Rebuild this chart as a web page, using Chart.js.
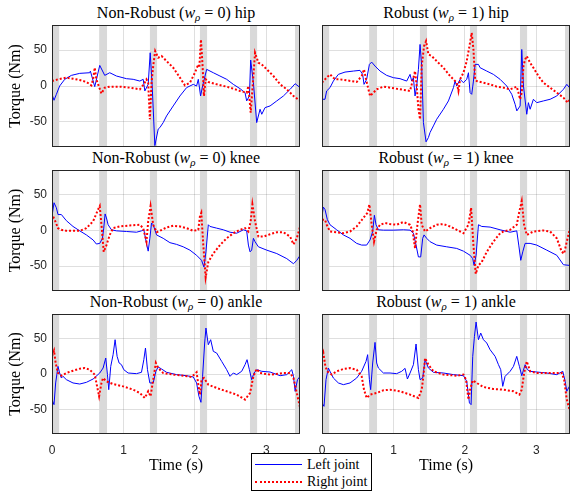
<!DOCTYPE html>
<html>
<head>
<meta charset="utf-8">
<script src="https://cdn.jsdelivr.net/npm/chart.js@4.4.0/dist/chart.umd.min.js"></script>
<style>
body { margin: 0; background: #fff; }
#fig { position: relative; width: 571px; height: 494px; overflow: hidden; background: #fff; }
#fig canvas { position: absolute; }
.ttl { position: absolute; width: 280px; text-align: center; font: 16px "Liberation Serif", serif; line-height: 18px; color: #000; white-space: nowrap; }
.ttl sub { font-size: 11px; vertical-align: -3px; line-height: 0; }
#legend { position: absolute; left: 251px; top: 453px; width: 119px; height: 36px; border: 1px solid #000; background: #fff; font: 14px "Liberation Serif", serif; color: #000; }
#legend .ln { position: absolute; left: 3px; width: 47px; height: 0; }
#legend .tx { position: absolute; left: 55px; line-height: 16px; white-space: nowrap; }
</style>
</head>
<body>
<div id="fig">
  <div class="ttl" style="left:36px;top:4px">Non-Robust (<i>w</i><sub><i>ρ</i></sub> = 0) hip</div>
  <div class="ttl" style="left:306px;top:4px">Robust (<i>w</i><sub><i>ρ</i></sub> = 1) hip</div>
  <div class="ttl" style="left:36px;top:149px">Non-Robust (<i>w</i><sub><i>ρ</i></sub> = 0) knee</div>
  <div class="ttl" style="left:306px;top:149px">Robust (<i>w</i><sub><i>ρ</i></sub> = 1) knee</div>
  <div class="ttl" style="left:36px;top:293px">Non-Robust (<i>w</i><sub><i>ρ</i></sub> = 0) ankle</div>
  <div class="ttl" style="left:306px;top:293px">Robust (<i>w</i><sub><i>ρ</i></sub> = 1) ankle</div>
  <div id="legend">
    <div class="ln" style="top:10px;border-top:1px solid #0000ff"></div>
    <div class="tx" style="top:3px">Left joint</div>
    <div class="ln" style="top:27px;border-top:2px dotted #ff0000"></div>
    <div class="tx" style="top:20px">Right joint</div>
  </div>
</div>
<script>
// time ticks and torque ticks
const timeTicks = [0, 1, 2, 3];
const torqueTicks = [-50, 0, 50];
const timeMax = 3.47;
const torqueLim = 85;

// double support phases (s)
const supportBands = [[0, 0.1], [0.66, 0.77], [1.37, 1.47], [2.07, 2.17], [2.77, 2.87], [3.40, 3.47]];

// [time, torque] pairs
const hipNRLeft = [[0,-11.6],[0.028,-19.9],[0.061,-11.6],[0.107,0],[0.178,9.3],[0.271,14.8],[0.388,17.6],[0.528,18.5],[0.537,20.8],[0.598,-0.9],[0.668,28.7],[0.738,14.8],[0.808,18.5],[0.902,13.9],[1.042,10.2],[1.136,9.3],[1.229,6.9],[1.276,9.3],[1.299,-6.9],[1.346,2.3],[1.374,46.3],[1.402,0],[1.439,-83],[1.486,-60],[1.509,-58],[1.556,-51],[1.603,-41.7],[1.696,-27.8],[1.79,-13.9],[1.883,-2.3],[1.977,2.3],[2.023,0],[2.047,9.3],[2.079,-13.9],[2.107,0],[2.164,23.2],[2.257,18.5],[2.35,13.9],[2.444,9.3],[2.537,2.3],[2.631,-3.7],[2.701,-9.3],[2.724,-20.8],[2.762,-13.9],[2.78,36.1],[2.818,4.6],[2.864,-51],[2.911,-32.4],[2.935,-39.4],[2.981,-30.1],[3.051,-27.8],[3.145,-20.8],[3.238,-13.9],[3.332,-4.6],[3.402,3.2],[3.472,-2.3]];
const hipNRRight = [[0,6.9],[0.084,9.3],[0.201,11.6],[0.294,10.2],[0.388,8.3],[0.481,5.6],[0.551,0.9],[0.575,9.3],[0.598,25.5],[0.621,9.3],[0.654,0],[0.692,-10.6],[0.738,-2.3],[0.808,-0.9],[0.949,-0.9],[1.089,-2.3],[1.229,-4.6],[1.285,2.3],[1.322,9.3],[1.346,4.6],[1.369,-46.3],[1.393,4.6],[1.416,27.8],[1.444,48.6],[1.486,39.4],[1.533,41.7],[1.603,34.7],[1.696,25.5],[1.79,11.6],[1.86,0.9],[1.93,4.6],[2.0,18.5],[2.047,30.1],[2.061,25.5],[2.084,64.8],[2.107,27.8],[2.126,-13.9],[2.15,9.3],[2.187,5.6],[2.304,2.3],[2.444,-0.9],[2.537,-3.7],[2.631,-6.9],[2.724,-9.3],[2.748,0],[2.78,-37],[2.808,0],[2.841,46.3],[2.888,32.4],[2.935,30.1],[3.005,23.2],[3.098,13.9],[3.192,2.3],[3.285,-4.6],[3.379,-13.9],[3.472,-20.8]];
const hipRLeft = [[0,-18.5],[0.042,-18.5],[0.065,-6.9],[0.112,-2.3],[0.159,6.9],[0.229,16.2],[0.322,19.4],[0.439,20.8],[0.532,21.8],[0.569,16.2],[0.588,2.3],[0.625,9.3],[0.663,30.1],[0.695,33.3],[0.742,27.8],[0.812,20.8],[0.905,14.8],[0.999,11.6],[1.092,10.2],[1.185,6.9],[1.232,16.2],[1.255,6.9],[1.279,11.6],[1.302,-13.9],[1.325,0],[1.349,23.2],[1.372,57.9],[1.395,27.8],[1.419,-50.9],[1.456,-77.8],[1.489,-71.8],[1.512,-64.8],[1.559,-55.6],[1.605,-46.3],[1.699,-32.4],[1.769,-20.8],[1.839,-2.3],[1.862,6.9],[1.885,0],[1.932,9.3],[1.979,4.6],[2.025,9.3],[2.049,18.5],[2.072,-9.3],[2.095,-11.6],[2.119,6.9],[2.142,30.1],[2.189,30.1],[2.212,25.5],[2.305,20.8],[2.398,16.2],[2.492,9.3],[2.585,0],[2.655,-11.6],[2.702,-25.5],[2.726,-34.7],[2.772,-27.8],[2.795,50.9],[2.819,0],[2.865,-39.4],[2.888,-23.2],[2.912,-32.4],[2.958,-18.5],[3.005,-23.2],[3.098,-20.8],[3.192,-18.5],[3.285,-13.9],[3.378,-4.6],[3.425,2.3],[3.462,-2.3],[3.47,-0.9]];
const hipRRight = [[0,4.6],[0.042,9.3],[0.112,16.2],[0.135,13.9],[0.182,9.3],[0.252,9.3],[0.345,7.9],[0.485,5.6],[0.555,13.9],[0.588,23.2],[0.616,9.3],[0.672,-13.9],[0.719,-9.3],[0.765,-4.6],[0.859,-0.9],[0.952,-2.3],[1.092,-4.6],[1.232,-6.9],[1.279,11.6],[1.302,20.8],[1.325,0],[1.349,-32.4],[1.372,-46.3],[1.395,27.8],[1.428,55.6],[1.456,62.5],[1.489,44],[1.535,41.7],[1.605,34.7],[1.699,25.5],[1.792,13.9],[1.885,4.6],[1.909,-6.9],[1.932,9.3],[1.979,18.5],[2.025,34.7],[2.063,55.6],[2.095,74.1],[2.119,50.9],[2.142,9.3],[2.165,6.9],[2.259,4.6],[2.352,2.3],[2.445,-0.9],[2.538,-2.3],[2.632,-4.6],[2.725,-0.9],[2.749,-9.3],[2.772,-18.5],[2.795,-9.3],[2.819,27.8],[2.842,37],[2.865,41.7],[2.912,32.4],[2.958,25.5],[3.028,13.9],[3.098,4.6],[3.192,-2.3],[3.285,-9.3],[3.378,-16.2],[3.439,-23.2],[3.47,-18.5]];

const kneeNRLeft = [[0,20],[0.028,39],[0.061,31.9],[0.084,22.4],[0.131,22.4],[0.201,13.8],[0.294,5.7],[0.388,-0.5],[0.481,-6.2],[0.575,-13.3],[0.621,-19],[0.668,-18.1],[0.706,-11],[0.724,3.3],[0.743,23.3],[0.762,17.6],[0.785,8.1],[0.832,1],[0.902,-0.5],[1.042,-1.4],[1.182,-2.4],[1.252,-0.5],[1.285,1],[1.322,-18.1],[1.346,-29],[1.369,-11],[1.393,10.5],[1.416,8.1],[1.463,-6.2],[1.556,-11],[1.65,-17.1],[1.743,-19.5],[1.836,-22.9],[1.93,-27.6],[2.023,-34.8],[2.093,-41.9],[2.126,-51.4],[2.154,-30],[2.187,8.1],[2.21,5.7],[2.304,3.3],[2.397,1],[2.491,-2.4],[2.584,-3.8],[2.678,1],[2.724,-0.5],[2.748,-20.5],[2.771,-30],[2.794,-27.6],[2.818,-11],[2.841,-15.7],[2.888,-22.9],[3.005,-27.6],[3.145,-32.4],[3.285,-39.5],[3.379,-46.7],[3.425,-41.9],[3.472,-34.8]];
const kneeNRRight = [[0,15.2],[0.014,20],[0.037,15.2],[0.084,3.3],[0.131,1],[0.201,-0.5],[0.388,-0.5],[0.481,3.3],[0.575,12.9],[0.645,29.5],[0.668,34.3],[0.692,8.1],[0.724,-30],[0.762,-20.5],[0.808,-6.2],[0.855,3.3],[0.949,5.7],[1.089,7.1],[1.229,8.1],[1.276,3.3],[1.322,-15.7],[1.346,12.9],[1.379,34.3],[1.416,8.1],[1.463,-2.4],[1.509,-0.5],[1.603,4.3],[1.696,6.7],[1.79,5.7],[1.883,3.3],[1.977,-0.5],[2.047,1],[2.07,20],[2.089,24.8],[2.117,-20.5],[2.15,-65.7],[2.187,-44.3],[2.257,-32.4],[2.35,-20.5],[2.444,-11],[2.537,-3.8],[2.631,1],[2.701,3.3],[2.748,-1.4],[2.78,12.9],[2.804,36.7],[2.841,12.9],[2.888,-8.6],[2.958,-8.6],[3.051,-5.2],[3.145,-2.4],[3.238,-2.4],[3.332,-8.6],[3.379,-19.5],[3.425,-11],[3.472,5.7]];
const kneeRLeft = [[0,20],[0.019,32.9],[0.042,29.5],[0.075,15.2],[0.112,8.1],[0.205,1],[0.299,-6.2],[0.392,-11],[0.485,-18.1],[0.555,-20.5],[0.625,-20.5],[0.672,-13.3],[0.709,-1.4],[0.733,21.4],[0.756,8.1],[0.789,1],[0.859,0.5],[0.999,0.5],[1.139,1],[1.232,0.5],[1.279,-3.8],[1.316,-20.5],[1.349,-37.1],[1.381,-37.1],[1.409,-11],[1.428,-6.2],[1.465,-11],[1.512,-15.7],[1.605,-20.5],[1.745,-22.9],[1.885,-25.2],[1.979,-29],[2.072,-34.8],[2.109,-39.5],[2.128,-49],[2.156,-34.8],[2.189,8.1],[2.235,5.7],[2.352,4.8],[2.492,1],[2.632,-2.4],[2.725,-0.5],[2.753,-20.5],[2.781,-41.9],[2.809,-30],[2.842,-18.1],[2.912,-18.1],[3.005,-20.5],[3.145,-27.6],[3.285,-34.8],[3.378,-48.1],[3.462,-49],[3.47,-39.5]];
const kneeRRight = [[0,15.2],[0.042,15.2],[0.065,8.1],[0.112,-1.4],[0.205,-2.4],[0.299,-3.8],[0.392,-1.4],[0.485,5.7],[0.579,17.6],[0.635,24.8],[0.663,36.7],[0.695,8.1],[0.728,-15.7],[0.765,1],[0.812,8.1],[0.882,10.5],[0.952,9],[1.045,8.1],[1.139,11.9],[1.232,8.1],[1.269,-1.4],[1.302,-25.2],[1.335,8.1],[1.372,36.7],[1.395,8.1],[1.442,-1.4],[1.512,3.3],[1.605,8.1],[1.699,9],[1.792,5.7],[1.885,1],[1.979,-3.8],[2.049,8.1],[2.086,31.9],[2.119,-20.5],[2.151,-61],[2.189,-49],[2.235,-44.3],[2.305,-30],[2.398,-15.7],[2.492,-3.8],[2.538,-1.4],[2.632,1],[2.725,8.1],[2.762,27.1],[2.795,41.4],[2.828,8.1],[2.865,-6.2],[2.958,-1.4],[3.098,0],[3.192,-1.4],[3.285,-11],[3.355,-30],[3.388,-32.4],[3.425,-15.7],[3.47,3.3]];

const ankleNRLeft = [[0,-36.3],[0.028,-43.4],[0.051,-12.7],[0.084,10.8],[0.107,1.4],[0.131,-5.7],[0.154,-3.3],[0.201,-8],[0.294,-12.7],[0.388,-14.2],[0.481,-11.8],[0.575,-7.1],[0.668,1.4],[0.715,8.5],[0.752,22.6],[0.776,-0.9],[0.794,-22.2],[0.822,10.8],[0.855,27.4],[0.883,48.6],[0.911,25],[0.939,15.6],[0.972,13.2],[1.005,6.1],[1.065,1.4],[1.182,0.5],[1.252,2.4],[1.285,20.3],[1.308,36.8],[1.336,6.1],[1.369,-12.7],[1.416,-12.7],[1.453,3.8],[1.486,9.9],[1.533,7.1],[1.603,2.4],[1.743,-0.9],[1.883,-2.4],[1.977,-4.2],[2.023,-12.7],[2.056,-31.6],[2.084,-40.1],[2.107,-3.3],[2.136,43.9],[2.154,65.1],[2.187,41.5],[2.22,48.6],[2.257,32.1],[2.304,29.7],[2.374,17.9],[2.444,6.1],[2.491,-3.3],[2.537,1.4],[2.584,-0.9],[2.654,3.8],[2.701,13.2],[2.729,20.3],[2.762,6.1],[2.794,-8],[2.827,1.4],[2.864,6.1],[2.935,3.8],[3.051,2.8],[3.192,-2.4],[3.285,-0.9],[3.355,6.1],[3.379,-3.3],[3.402,-24.5],[3.435,-8],[3.472,-3.3]];
const ankleNRRight = [[0,25],[0.028,33],[0.051,15.6],[0.084,1.4],[0.131,-2.4],[0.201,1.4],[0.294,4.7],[0.388,7.5],[0.458,8.5],[0.528,6.1],[0.598,-0.9],[0.631,-17.5],[0.659,-31.6],[0.692,-12.7],[0.715,-5.7],[0.762,-10.4],[0.855,-14.2],[0.995,-17.5],[1.136,-22.2],[1.229,-26.9],[1.299,-34],[1.346,-24.5],[1.379,-31.6],[1.416,-8],[1.453,15.6],[1.486,8.5],[1.556,1.4],[1.696,-0.9],[1.836,-2.4],[1.953,-4.2],[2.023,2.4],[2.051,-17.5],[2.07,-29.2],[2.093,-8],[2.126,-5.7],[2.187,-15.1],[2.304,-19.8],[2.444,-24.5],[2.584,-29.2],[2.701,-36.3],[2.771,-26.9],[2.818,-3.3],[2.864,7.1],[2.911,1.4],[3.051,-0.9],[3.238,1.4],[3.332,1.4],[3.379,-5.7],[3.425,-26.9],[3.472,-48.1]];
const ankleRLeft = [[0,-41],[0.028,-45.8],[0.056,-8],[0.089,8.5],[0.112,3.8],[0.159,-5.7],[0.229,-12.7],[0.299,-15.1],[0.392,-12.7],[0.485,-5.7],[0.555,3.8],[0.616,17.9],[0.639,27.4],[0.663,-8],[0.681,-22.2],[0.709,15.6],[0.742,44.8],[0.765,15.6],[0.789,8.5],[0.859,1.4],[0.952,1.4],[1.045,0.5],[1.115,3.8],[1.162,8],[1.195,-7.1],[1.232,1.4],[1.279,13.2],[1.316,42.5],[1.349,6.1],[1.372,-8],[1.409,-5.7],[1.442,20.3],[1.489,8.5],[1.559,2.4],[1.699,1.4],[1.839,-0.9],[1.979,-2.4],[2.025,-10.4],[2.063,-41],[2.086,-43.4],[2.109,25],[2.133,53.3],[2.156,73.6],[2.189,48.6],[2.221,58],[2.259,48.6],[2.305,43.9],[2.352,34.4],[2.422,25],[2.469,13.2],[2.501,6.1],[2.529,-17.5],[2.562,-3.3],[2.632,3.8],[2.679,10.8],[2.725,25],[2.762,10.8],[2.795,-2.4],[2.842,13.2],[2.875,6.1],[2.912,3.8],[3.005,2.8],[3.145,1.4],[3.285,-0.9],[3.369,3.8],[3.402,-10.4],[3.425,-24.5],[3.462,-17.5],[3.47,-22.2]];
const ankleRRight = [[0,22.6],[0.019,29.7],[0.047,10.8],[0.075,3.8],[0.135,-0.9],[0.205,3.8],[0.299,7.1],[0.392,8.5],[0.485,6.1],[0.555,-3.3],[0.588,-22.2],[0.625,-34],[0.672,-29.2],[0.765,-26.9],[0.859,-23.1],[0.952,-22.2],[1.092,-24.5],[1.232,-29.2],[1.349,-34],[1.395,-22.2],[1.419,-3.3],[1.442,22.6],[1.489,13.2],[1.559,3.8],[1.699,-0.9],[1.885,-2.4],[1.979,-0.9],[2.016,-8],[2.049,-36.3],[2.072,-22.2],[2.109,-9],[2.165,-12.7],[2.259,-18.4],[2.398,-21.2],[2.538,-22.2],[2.679,-24.5],[2.762,-29.2],[2.795,-22.2],[2.828,1.4],[2.865,17.9],[2.912,3.8],[3.005,1.4],[3.145,1.4],[3.285,1.4],[3.355,1.4],[3.388,-8],[3.425,-36.3],[3.47,-52.8]];

const panels = [
  { left: hipNRLeft, right: hipNRRight, col: 0, row: 0 },
  { left: hipRLeft, right: hipRRight, col: 1, row: 0 },
  { left: kneeNRLeft, right: kneeNRRight, col: 0, row: 1 },
  { left: kneeRLeft, right: kneeRRight, col: 1, row: 1 },
  { left: ankleNRLeft, right: ankleNRRight, col: 0, row: 2 },
  { left: ankleRLeft, right: ankleRRight, col: 1, row: 2 }
];

// pixel frame of each panel
const colLeft = [0, 302], colWidth = [301, 269], yAxisWidth = [52, 20];
const rowTop = [25, 170, 314], rowHeight = [123, 122, 180], xAxisHeight = [0, 0, 60];

const AXIS_COLOR = '#262626';
const GRID_COLOR = 'rgba(38,38,38,0.15)';

const framePlugin = {
  id: 'frame',
  beforeDatasetsDraw(chart) {
    const { ctx, chartArea: a, scales: { x } } = chart;
    ctx.save();
    ctx.fillStyle = '#d9d9d9';
    supportBands.forEach(([s, e]) => {
      const x0 = Math.max(x.getPixelForValue(s), a.left);
      const x1 = Math.min(x.getPixelForValue(e), a.right);
      if (x1 > x0) ctx.fillRect(x0, a.top, x1 - x0, a.bottom - a.top);
    });
    ctx.restore();
  },
  afterDraw(chart) {
    const { ctx, chartArea: a } = chart;
    ctx.save();
    ctx.strokeStyle = AXIS_COLOR;
    ctx.lineWidth = 1;
    ctx.strokeRect(Math.round(a.left) + 0.5, Math.round(a.top) + 0.5, Math.round(a.right - a.left) - 1, Math.round(a.bottom - a.top) - 1);
    ctx.restore();
  }
};

const toXY = arr => arr.map(p => ({ x: p[0], y: p[1] }));
const fig = document.getElementById('fig');

panels.forEach(p => {
  const canvas = document.createElement('canvas');
  canvas.width = colWidth[p.col];
  canvas.height = rowHeight[p.row];
  canvas.style.left = colLeft[p.col] + 'px';
  canvas.style.top = rowTop[p.row] + 'px';
  fig.insertBefore(canvas, fig.firstChild);

  const bottomRow = p.row === 2;
  const firstCol = p.col === 0;

  new Chart(canvas.getContext('2d'), {
    type: 'line',
    data: {
      datasets: [
        { label: 'Left joint', data: toXY(p.left), borderColor: '#0000ff', borderWidth: 1, pointRadius: 0, order: 2 },
        { label: 'Right joint', data: toXY(p.right), borderColor: '#ff0000', borderWidth: 2, borderDash: [2, 2], pointRadius: 0, order: 1 }
      ]
    },
    options: {
      responsive: false,
      animation: false,
      devicePixelRatio: 1,
      layout: { padding: { top: 0, right: 1, bottom: bottomRow ? 0 : 1, left: 0 } },
      plugins: { legend: { display: false }, tooltip: { enabled: false } },
      elements: { line: { tension: 0 } },
      scales: {
        x: {
          type: 'linear',
          min: 0, max: timeMax,
          afterBuildTicks: s => { s.ticks = timeTicks.map(v => ({ value: v })); },
          afterFit: s => { s.height = xAxisHeight[p.row]; s.paddingLeft = 0; s.paddingRight = 0; },
          grid: { color: GRID_COLOR, drawTicks: false },
          border: { display: false },
          ticks: { display: bottomRow, padding: 9, color: AXIS_COLOR, font: { family: 'Liberation Sans', size: 12 }, maxRotation: 0 },
          title: { display: bottomRow, text: 'Time (s)', color: '#000', font: { family: 'Liberation Serif', size: 16 }, padding: { top: 0, bottom: 19 } }
        },
        y: {
          min: -torqueLim, max: torqueLim,
          afterBuildTicks: s => { s.ticks = torqueTicks.map(v => ({ value: v })); },
          afterFit: s => { s.width = yAxisWidth[p.col]; s.paddingTop = 0; s.paddingBottom = 0; },
          grid: { color: GRID_COLOR, drawTicks: false },
          border: { display: false },
          ticks: { display: firstCol, padding: 5, color: AXIS_COLOR, font: { family: 'Liberation Sans', size: 12 } },
          title: { display: firstCol, text: 'Torque (Nm)', color: '#000', font: { family: 'Liberation Serif', size: 16 }, padding: { top: 6, bottom: 0 } }
        }
      }
    },
    plugins: [framePlugin]
  });
});
</script>
</body>
</html>
